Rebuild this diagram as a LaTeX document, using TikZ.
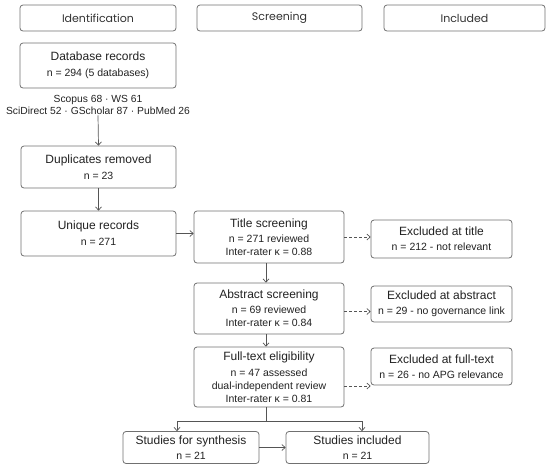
\documentclass[tikz,border=0pt]{standalone}
\usepackage{fontspec}
\setmainfont{Liberation Sans}
\newfontfamily\headfont{Poppins}
\usetikzlibrary{arrows.meta}
\definecolor{boxline}{HTML}{707070}
\definecolor{arrowline}{HTML}{555555}
\definecolor{txt}{HTML}{222222}
\newcommand{\ttl}[1]{{\fontsize{12}{15}\selectfont #1}}
\newcommand{\dtl}{\fontsize{10.5}{13}\selectfont}
\tikzset{
  box/.style={draw=boxline, line width=0.8pt, rounded corners=3pt, fill=white,
    align=center, text=txt, inner sep=2pt, font=\dtl},
  headbox/.style={box, minimum height=26pt, font=\headfont\fontsize{11}{13}\selectfont, text=black!80},
  conn/.style={draw=arrowline, line width=0.7pt},
  arr/.style={conn, -{Straight Barb[length=3.2pt,width=6pt]}},
  darr/.style={arr, dash pattern=on 3pt off 2pt}
}
\begin{document}
\begin{tikzpicture}[x=1pt,y=-1pt]
\useasboundingbox (0,0) rectangle (550,467);
% headers
\node[headbox, minimum width=156pt] (hid) at (98,18) {Identification};
\node[headbox, minimum width=165pt] (hsc) at (279.5,18) {Screening};
\node[headbox, minimum width=161pt] (hin) at (464.5,18) {Included};
% identification column
\node[box, minimum width=156pt, minimum height=45pt] (db) at (98,65.5)
  {\ttl{Database records}\\[3pt]n = 294 (5 databases)};
\node[text=txt, align=center, inner sep=1pt, font=\fontsize{10.3}{12}\selectfont] (src) at (98,104.5)
  {Scopus 68 · WS 61\\SciDirect 52 · GScholar 87 · PubMed 26};
\node[box, minimum width=155pt, minimum height=42pt] (dup) at (98.5,167)
  {\ttl{Duplicates removed}\\[3pt]n = 23};
\node[box, minimum width=155pt, minimum height=45pt] (uniq) at (98.5,233.5)
  {\ttl{Unique records}\\[3pt]n = 271};
% screening column
\node[box, minimum width=150pt, minimum height=52pt] (title) at (269,237)
  {\ttl{Title screening}\\[2pt]n = 271 reviewed\\Inter-rater κ = 0.88};
\node[box, minimum width=150pt, minimum height=51pt] (abs) at (269,308.5)
  {\ttl{Abstract screening}\\[2pt]n = 69 reviewed\\Inter-rater κ = 0.84};
\node[box, minimum width=150pt, minimum height=60pt] (full) at (269,377)
  {\ttl{Full-text eligibility}\\[2.5pt]n = 47 assessed\\dual-independent review\\Inter-rater κ = 0.81};
% exclusions
\node[box, minimum width=141pt, minimum height=38pt] (extitle) at (441.5,239)
  {\ttl{Excluded at title}\\[2pt]n = 212 - not relevant};
\node[box, minimum width=141pt, minimum height=36pt] (exabs) at (441.5,304)
  {\ttl{Excluded at abstract}\\[2pt]n = 29 - no governance link};
\node[box, minimum width=141pt, minimum height=37pt] (exfull) at (441.5,366.5)
  {\ttl{Excluded at full-text}\\[2pt]n = 26 - no APG relevance};
% final
\node[box, minimum width=136pt, minimum height=32pt, inner sep=1pt] (synth) at (191,447.5)
  {\ttl{Studies for synthesis}\\[2pt]n = 21};
\node[box, minimum width=143pt, minimum height=32pt, inner sep=1pt] (incl) at (357.5,447.5)
  {\ttl{Studies included}\\[2pt]n = 21};
% connectors
\draw[arr] (src.south) -- (dup.north);
\draw[arr] (dup.south) -- (uniq.north);
\draw[arr] (uniq.east) -- (title.west |- uniq.east);
\draw[darr] (title.east) -- (title.east -| extitle.west);
\draw[darr] ([yshift=-3pt]abs.east) -- ([yshift=-3pt]abs.east -| exabs.west);
\draw[darr] ([yshift=-9pt]full.east) -- ([yshift=-9pt]full.east -| exfull.west);
\draw[arr] ([xshift=-3pt]title.south) -- ([xshift=-3pt]abs.north);
\draw[arr] ([xshift=-3pt]abs.south) -- ([xshift=-3pt]full.north);
\coordinate (bl) at (177,421);
\coordinate (bra) at (362,421);
\draw[conn] ([xshift=-3pt]full.south) -- ([xshift=-3pt]full.south |- bl);
\draw[arr] (bra) -- (bl) -- (bl |- synth.north);
\draw[arr] (bl) -- (bra) -- (bra |- incl.north);
\draw[arr] (synth.east) -- (incl.west);
\end{tikzpicture}
\end{document}
